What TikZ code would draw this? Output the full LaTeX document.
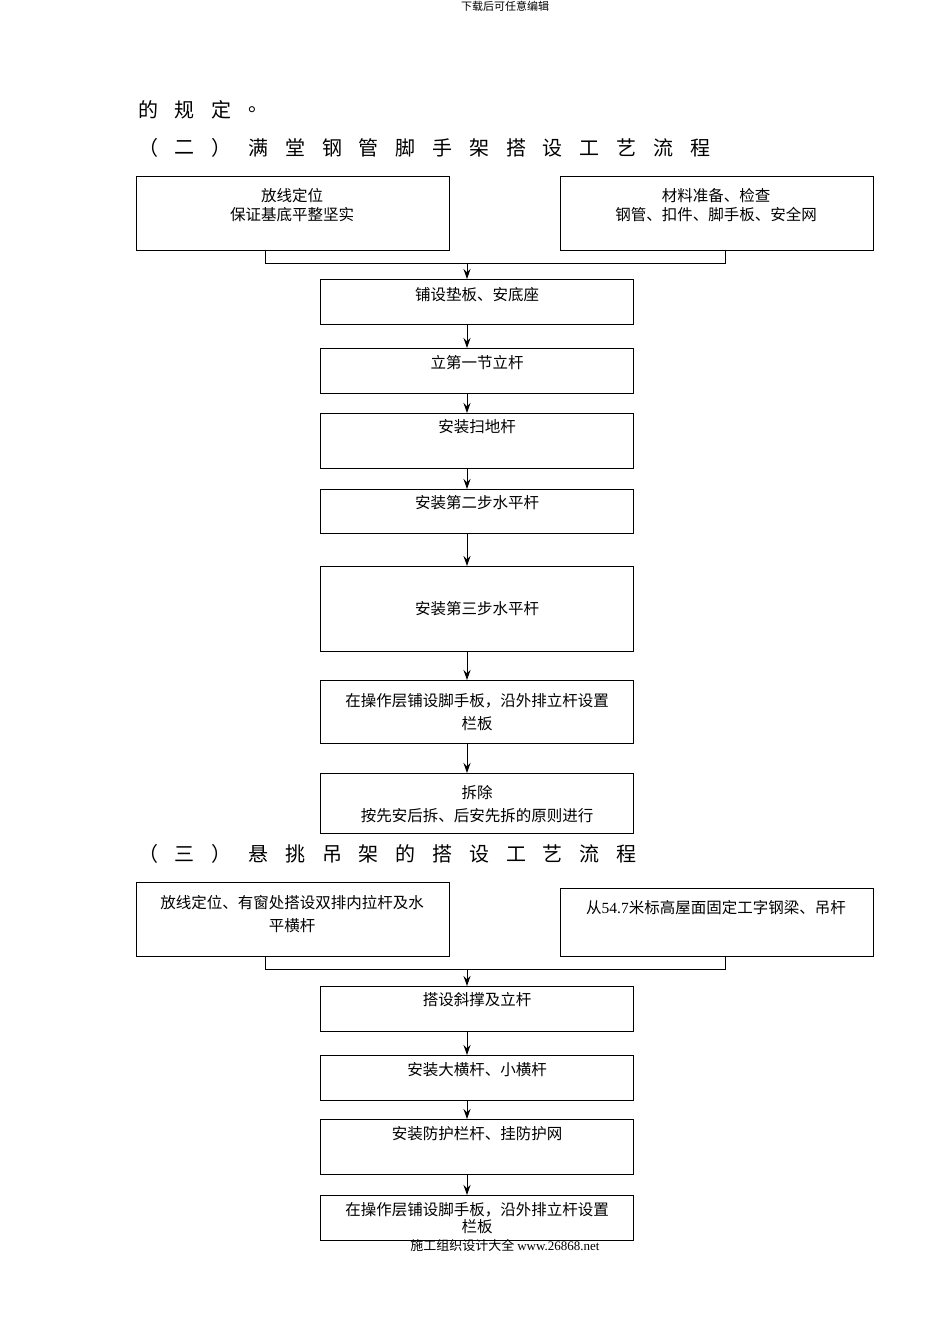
\documentclass[tikz,border=0pt]{standalone}
\usepackage{fontspec}
\setmainfont{Liberation Serif}
\newfontfamily\cjk{Noto Sans CJK SC}
\usetikzlibrary{arrows.meta}
\begin{document}
\begin{tikzpicture}[x=1pt,y=-1pt,
  box/.style={draw,line width=1pt,inner sep=0pt},
  txt/.style={font=\cjk\fontsize{15.5}{23}\selectfont,align=center},
  hd/.style={font=\cjk\fontsize{20}{20}\selectfont},
  arr/.style={-{Stealth[length=10pt,width=7pt]},line width=1pt},
  ln/.style={line width=1pt}]
\useasboundingbox[fill=white] (0,0) rectangle (950,1344);
\node[font=\cjk\fontsize{11}{11}\selectfont] (hdr) at (505,6) {下载后可任意编辑};
\node[font=\cjk\fontsize{13}{13}\selectfont] (ftr) at (505,1245) {施工组织设计大全 \rmfamily www.26868.net};
% headings
\foreach \c [count=\i from 0] in {的,规,定,。} \node[hd] (ha\i) at (148+36.8*\i,110) {\c};
\foreach \c [count=\i from 0] in {（,二,）,满,堂,钢,管,脚,手,架,搭,设,工,艺,流,程} \node[hd] (hb\i) at (148+36.8*\i,148) {\c};
\foreach \c [count=\i from 0] in {（,三,）,悬,挑,吊,架,的,搭,设,工,艺,流,程} \node[hd] (hc\i) at (148+36.8*\i,854) {\c};
% section 2 boxes
\draw[box] (136,176) rectangle (449,250);
\draw[box] (560,176) rectangle (873,250);
\node[txt,font=\cjk\fontsize{15.5}{19}\selectfont] (t1) at (292,205) {放线定位\\保证基底平整坚实};
\node[txt,font=\cjk\fontsize{15.5}{19}\selectfont] (t2) at (716,205) {材料准备、检查\\钢管、扣件、脚手板、安全网};
\draw[ln] (265,250) -- (265,263) -- (725,263) -- (725,250);
\coordinate (j1) at (467,263);
\foreach \n/\a/\b/\ty/\t in {
 b1/279/324/295/{铺设垫板、安底座},
 b2/348/393/363/{立第一节立杆},
 b3/413/468/427/{安装扫地杆},
 b4/489/533/503/{安装第二步水平杆},
 b5/566/651/609/{安装第三步水平杆},
 b6/680/743/712/{在操作层铺设脚手板，沿外排立杆设置\\栏板},
 b7/773/833/804/{拆除\\按先安后拆、后安先拆的原则进行},
 c1/986/1031/1000/{搭设斜撑及立杆},
 c2/1055/1100/1070/{安装大横杆、小横杆},
 c3/1119/1174/1134/{安装防护栏杆、挂防护网}}{
 \draw[box] (320,\a) rectangle (633,\b);
 \coordinate (\n t) at (467,\a); \coordinate (\n b) at (467,\b);
 \node[txt] (\n) at (477,\ty) {\t};
}
\draw[box] (320,1195) rectangle (633,1240);
\coordinate (c4t) at (467,1195);
\node[txt,font=\cjk\fontsize{15.5}{17}\selectfont] (c4) at (477,1218) {在操作层铺设脚手板，沿外排立杆设置\\栏板};
\draw[arr] (j1) -- (b1t);
\draw[arr] (b1b) -- (b2t);
\draw[arr] (b2b) -- (b3t);
\draw[arr] (b3b) -- (b4t);
\draw[arr] (b4b) -- (b5t);
\draw[arr] (b5b) -- (b6t);
\draw[arr] (b6b) -- (b7t);
% section 3
\draw[box] (136,882) rectangle (449,956);
\draw[box] (560,888) rectangle (873,956);
\node[txt] (s1) at (292,914) {放线定位、有窗处搭设双排内拉杆及水\\平横杆};
\node[txt] (s2) at (716,908) {从\rmfamily 54.7\cjk 米标高屋面固定工字钢梁、吊杆};
\draw[ln] (265,956) -- (265,969) -- (725,969) -- (725,956);
\coordinate (j2) at (467,969);
\draw[arr] (j2) -- (c1t);
\draw[arr] (c1b) -- (c2t);
\draw[arr] (c2b) -- (c3t);
\draw[arr] (c3b) -- (c4t);
\end{tikzpicture}
\end{document}
